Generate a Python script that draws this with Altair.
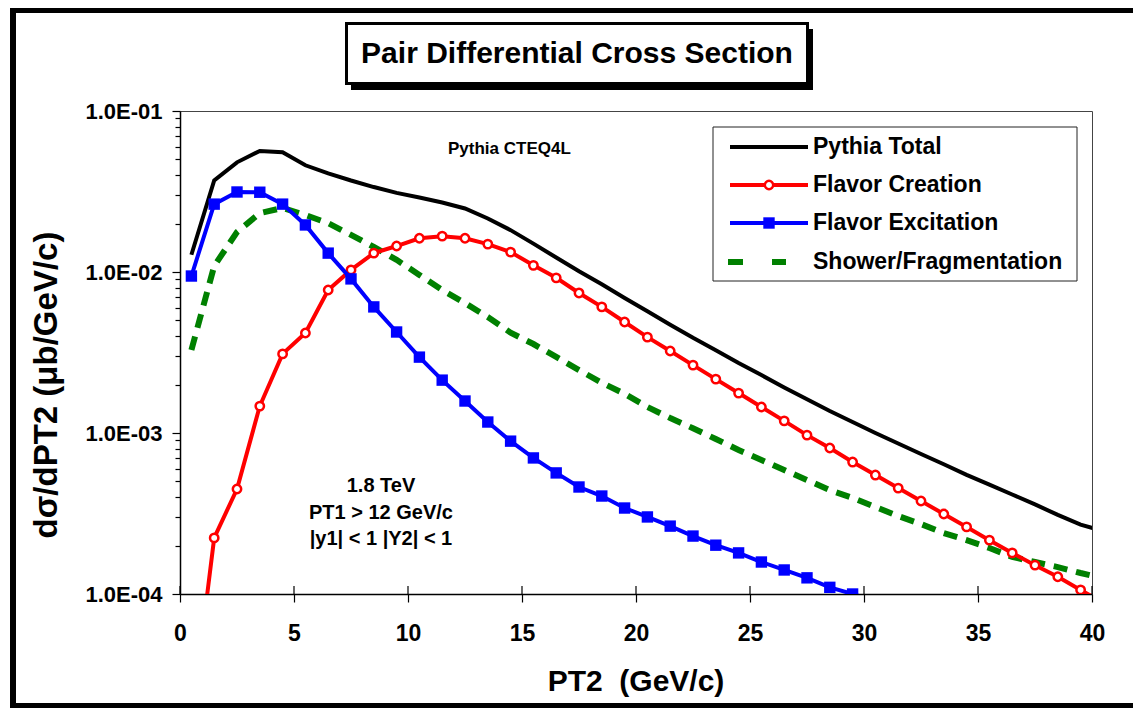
import altair as alt
import pandas as pd

# ---------------- data ----------------
PT2 = [0.5, 1.5, 2.5, 3.5, 4.5, 5.5, 6.5, 7.5, 8.5, 9.5, 10.5, 11.5, 12.5, 13.5,
       14.5, 15.5, 16.5, 17.5, 18.5, 19.5, 20.5, 21.5, 22.5, 23.5, 24.5, 25.5,
       26.5, 27.5, 28.5, 29.5, 30.5, 31.5, 32.5, 33.5, 34.5, 35.5, 36.5, 37.5,
       38.5, 39.5, 40.5]

TOTAL = [0.0128, 0.037, 0.048, 0.0565, 0.0555, 0.046, 0.041, 0.037, 0.0337, 0.031,
         0.029, 0.027, 0.0248, 0.0215, 0.0182, 0.0150, 0.0123, 0.0101, 0.0084, 0.0069,
         0.0057, 0.0047, 0.0039, 0.00327, 0.00272, 0.00229, 0.00192, 0.00162, 0.00137,
         0.00117, 0.00100, 0.00086, 0.00074, 0.00064, 0.00055, 0.000478, 0.000415,
         0.00036, 0.00031, 0.00027, 0.000245]

CREATION = [1.6e-5, 0.000223, 0.000449, 0.00147, 0.0031, 0.00418, 0.00773, 0.0103,
            0.0131, 0.0145, 0.0162, 0.0167, 0.0162, 0.0149, 0.0133, 0.0110, 0.0092,
            0.00741, 0.00607, 0.00489, 0.00394, 0.00323, 0.00264, 0.00216, 0.00177,
            0.00145, 0.00119, 0.00097, 0.000807, 0.00066, 0.000548, 0.000455,
            0.000378, 0.000314, 0.000261, 0.000216, 0.00018, 0.000151, 0.000128,
            0.000106, 0.000088]

EXCITATION = [0.00944, 0.0264, 0.0314, 0.0313, 0.0264, 0.0196, 0.0131, 0.00906,
              0.00607, 0.00424, 0.00296, 0.00213, 0.00158, 0.00117, 0.00089, 0.0007,
              0.000565, 0.000462, 0.000406, 0.000342, 0.000301, 0.000264, 0.000229,
              0.000201, 0.00018, 0.000158, 0.000141, 0.000126, 0.00011, 0.0001, 0.00009]

SHOWER = [0.00328, 0.0109, 0.0177, 0.0232, 0.025, 0.0226, 0.0201, 0.017, 0.0143,
          0.0119, 0.00958, 0.00773, 0.00641, 0.00525, 0.0042, 0.00357, 0.00297,
          0.00246, 0.00205, 0.00175, 0.00145, 0.00124, 0.00107, 0.000918, 0.000784,
          0.00068, 0.000589, 0.00051, 0.000442, 0.000395, 0.000347, 0.000305,
          0.000272, 0.000239, 0.000216, 0.000193, 0.00017, 0.000158, 0.000147,
          0.000135, 0.000125]

X_TICKS = [0, 5, 10, 15, 20, 25, 30, 35, 40]
Y_TICKS = [1e-4, 2e-4, 3e-4, 4e-4, 5e-4, 6e-4, 7e-4, 8e-4, 9e-4,
           1e-3, 2e-3, 3e-3, 4e-3, 5e-3, 6e-3, 7e-3, 8e-3, 9e-3,
           1e-2, 2e-2, 3e-2, 4e-2, 5e-2, 6e-2, 7e-2, 8e-2, 9e-2, 1e-1]

SERIES_NAMES = ["Pythia Total", "Flavor Creation", "Flavor Excitation",
                "Shower/Fragmentation"]
TITLE = "Pair Differential Cross Section"
NOTE_LINES = ["1.8 TeV", "PT1 > 12 GeV/c", "|y1| < 1 |Y2| < 1"]
MODEL = "Pythia CTEQ4L"
X_TITLE = "PT2\u00a0 (GeV/c)"
Y_TITLE = "d\u03c3/dPT2 (\u03bcb/GeV/c)"

# ---------------- layout ----------------
W, H = 912, 483
FONT = "Liberation Sans"


def frame(xs, ys):
    return pd.DataFrame({"pt2": xs[:len(ys)], "v": ys})


xscale = alt.Scale(domain=[0, 40], nice=False, zero=False)
yscale = alt.Scale(type="log", domain=[1e-4, 1e-1], nice=False)

major = "abs(log(datum.value)/LN10 - round(log(datum.value)/LN10)) < 0.001"

x_axis = alt.Axis(values=X_TICKS, title=None, grid=False, tickSize=8,
                  labelPadding=20, labelFontSize=23, labelFontWeight="bold",
                  labelFont=FONT, labelColor="black", domainColor="black",
                  domainWidth=1.5, tickColor="black", tickWidth=1.2,
                  labelFlush=False, labelOverlap=False)
y_axis = alt.Axis(values=Y_TICKS, title=None, grid=False,
                  tickSize={"condition": {"test": major, "value": 8}, "value": 5},
                  labelExpr="abs(log(datum.value)/LN10 - round(log(datum.value)/LN10)) < 0.001"
                            " ? '1.0E-0' + (-round(log(datum.value)/LN10)) : ''",
                  labelPadding=10, labelFontSize=22, labelFontWeight="bold",
                  labelFont=FONT, labelColor="black", domainColor="black",
                  domainWidth=1.5, tickColor="black", tickWidth=1.2,
                  labelOverlap=False, labelFlush=False)

X = alt.X("pt2:Q", scale=xscale, axis=x_axis)
Y = alt.Y("v:Q", scale=yscale, axis=y_axis)

one = pd.DataFrame({"k": [0]})


def box(x, x2, y, y2, **kw):
    return alt.Chart(one).mark_rect(**kw).encode(
        x=alt.value(x), x2=alt.value(x2), y=alt.value(y), y2=alt.value(y2))


def label(text, x, y, size, align="left", baseline="middle", angle=0):
    return alt.Chart(pd.DataFrame({"t": [text]})).mark_text(
        font=FONT, fontSize=size, fontWeight="bold", color="black",
        align=align, baseline=baseline, angle=angle).encode(
        x=alt.value(x), y=alt.value(y), text="t:N")


def hline(x, x2, y, color, width, dash=None):
    kw = dict(color=color, strokeWidth=width)
    if dash:
        kw["strokeDash"] = dash
    return alt.Chart(one).mark_rule(**kw).encode(
        x=alt.value(x), x2=alt.value(x2), y=alt.value(y))


def vline(x, y, y2, color, width):
    return alt.Chart(one).mark_rule(color=color, strokeWidth=width).encode(
        x=alt.value(x), y=alt.value(y), y2=alt.value(y2))


# outer figure border: thick black bars along left, top and bottom edges
outer = [
    box(-170, -164, -103, 598, fill="black"),
    box(-170, 953, -103, -98, fill="black"),
    box(-170, 953, 592, 598, fill="black"),
]

# title box with shadow
title_shadow = box(171, 633, -82, -21, fill="black")
title_box = box(166.5, 627.5, -87.5, -27.5, fill="white", stroke="black", strokeWidth=3)
title_text = label(TITLE, 397, -57, 30, align="center")

# data layers
total = alt.Chart(frame(PT2, TOTAL)).mark_line(
    color="black", strokeWidth=4, clip=True).encode(x=X, y=Y)

shower = alt.Chart(frame(PT2, SHOWER)).mark_line(
    color="#008000", strokeWidth=6, strokeDash=[14, 9], clip=True).encode(x=X, y=Y)

creation_line = alt.Chart(frame(PT2, CREATION)).mark_line(
    color="#ff0000", strokeWidth=4, clip=True).encode(x=X, y=Y)
creation_pts = alt.Chart(frame(PT2, CREATION)).mark_point(
    shape="circle", size=70, filled=True, fill="white", stroke="#ff0000",
    strokeWidth=2.5, opacity=1, clip=True).encode(x=X, y=Y)

excitation_line = alt.Chart(frame(PT2, EXCITATION)).mark_line(
    color="#0000ff", strokeWidth=4, clip=True).encode(x=X, y=Y)
excitation_pts = alt.Chart(frame(PT2, EXCITATION)).mark_point(
    shape="square", size=130, filled=True, color="#0000ff", opacity=1,
    clip=True).encode(x=X, y=Y)

# inner halves of the crossing x ticks
xt = alt.Chart(pd.DataFrame({"pt2": X_TICKS})).mark_rule(
    color="black", strokeWidth=1.2).encode(
    x=X, y=alt.value(H - 8), y2=alt.value(H))

# legend
leg_box = box(533, 897, 16, 170, fill="white", stroke="#222", strokeWidth=1)
rows = [36, 74, 112, 151]
leg = [
    hline(550, 628, rows[0], "black", 4),
    hline(550, 628, rows[1], "#ff0000", 4),
    alt.Chart(one).mark_point(shape="circle", size=70, filled=True, fill="white",
                              stroke="#ff0000", strokeWidth=2.5, opacity=1).encode(
        x=alt.value(589), y=alt.value(rows[1])),
    hline(550, 628, rows[2], "#0000ff", 4),
    alt.Chart(one).mark_point(shape="square", size=130, filled=True,
                              color="#0000ff", opacity=1).encode(
        x=alt.value(589), y=alt.value(rows[2])),
    hline(548, 606, rows[3], "#008000", 6, dash=[15, 29]),
]
leg_text = [label(n, 633, r, 23) for n, r in zip(SERIES_NAMES, rows)]

# annotations
model_text = label(MODEL, 268, 38, 17)
notes = [label(t, 201, yy, 20, align="center", baseline="alphabetic")
         for t, yy in zip(NOTE_LINES, [381, 408, 434])]
x_title = label(X_TITLE, 456, 580, 30, align="center", baseline="alphabetic")
y_title = label(Y_TITLE, -133, 274, 33, align="center", angle=270)

chart = alt.layer(
    *outer, title_shadow, title_box, title_text, leg_box,
    shower, total, creation_line, creation_pts, excitation_line, excitation_pts,
    xt, *leg, *leg_text, model_text, *notes, x_title, y_title,
).properties(
    width=W, height=H,
    autosize=alt.AutoSizeParams(type="none"),
    padding={"left": 172, "top": 103, "right": 41, "bottom": 114},
    background="white",
).configure_view(stroke="#444", strokeWidth=1)

chart.save("out.html", embed_options={"renderer": "svg", "actions": False})
